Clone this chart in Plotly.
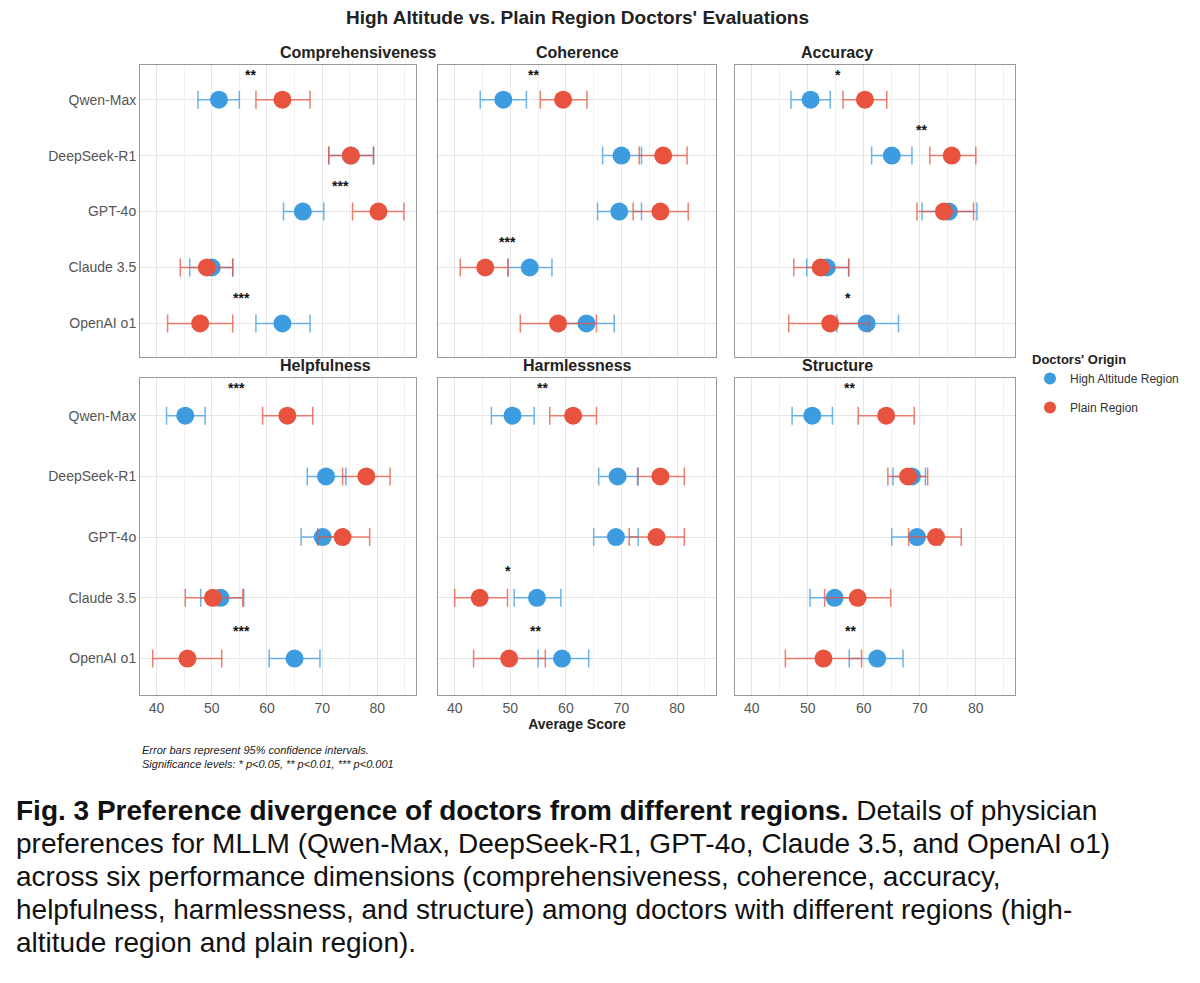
import plotly.graph_objects as go

models = ["Qwen-Max", "DeepSeek-R1", "GPT-4o", "Claude 3.5", "OpenAI o1"]
dims = ["Comprehensiveness", "Coherence", "Accuracy", "Helpfulness", "Harmlessness", "Structure"]

high_mean = {
    "Comprehensiveness": [51.3, 75.2, 66.5, 50.0, 62.8],
    "Coherence": [48.75, 70.0, 69.6, 53.5, 63.7],
    "Accuracy": [50.5, 65.0, 75.2, 53.4, 60.5],
    "Helpfulness": [45.2, 70.7, 70.1, 51.6, 65.0],
    "Harmlessness": [50.4, 69.3, 69.0, 54.8, 59.3],
    "Structure": [50.8, 68.6, 69.5, 54.8, 62.4],
}
high_lo = {
    "Comprehensiveness": [47.5, 71.2, 63.0, 46.0, 58.0],
    "Coherence": [44.6, 66.6, 65.7, 49.6, 58.7],
    "Accuracy": [47.0, 61.4, 70.4, 49.8, 55.2],
    "Helpfulness": [41.8, 67.3, 66.2, 48.0, 60.4],
    "Harmlessness": [46.6, 65.9, 65.0, 50.7, 55.0],
    "Structure": [47.2, 65.2, 65.0, 50.4, 57.4],
}
high_hi = {
    "Comprehensiveness": [55.0, 79.3, 70.3, 53.8, 67.8],
    "Coherence": [52.9, 73.6, 73.6, 57.5, 68.7],
    "Accuracy": [54.0, 68.6, 80.2, 57.3, 66.2],
    "Helpfulness": [48.8, 74.3, 74.0, 55.8, 69.6],
    "Harmlessness": [54.3, 73.0, 73.0, 59.1, 64.1],
    "Structure": [54.4, 71.0, 73.7, 59.2, 67.0],
}
plain_mean = {
    "Comprehensiveness": [62.8, 75.2, 80.2, 49.1, 47.9],
    "Coherence": [59.5, 77.5, 77.0, 45.5, 58.6],
    "Accuracy": [60.2, 75.7, 74.3, 52.3, 54.0],
    "Helpfulness": [63.7, 78.0, 73.7, 50.2, 45.6],
    "Harmlessness": [61.3, 77.0, 76.3, 44.5, 49.8],
    "Structure": [64.0, 67.9, 72.9, 58.9, 52.8],
}
plain_lo = {
    "Comprehensiveness": [58.0, 71.2, 75.5, 44.3, 42.0],
    "Coherence": [55.4, 73.2, 72.1, 41.0, 51.8],
    "Accuracy": [56.3, 71.8, 69.5, 47.5, 46.6],
    "Helpfulness": [59.2, 73.7, 69.2, 45.2, 39.3],
    "Harmlessness": [57.1, 72.9, 71.4, 40.0, 43.4],
    "Structure": [59.0, 64.3, 68.0, 53.0, 46.0],
}
plain_hi = {
    "Comprehensiveness": [67.8, 79.3, 84.8, 53.8, 53.8],
    "Coherence": [63.8, 81.8, 82.0, 49.6, 65.5],
    "Accuracy": [64.1, 80.0, 79.6, 57.3, 61.0],
    "Helpfulness": [68.3, 82.3, 78.6, 55.6, 51.8],
    "Harmlessness": [65.5, 81.3, 81.3, 49.5, 56.3],
    "Structure": [69.0, 71.4, 77.4, 64.8, 59.6],
}
signif = {
    "Comprehensiveness": ["**", "", "***", "", "***"],
    "Coherence": ["**", "", "", "***", ""],
    "Accuracy": ["*", "**", "", "", "*"],
    "Helpfulness": ["***", "", "", "", "***"],
    "Harmlessness": ["**", "", "", "*", "**"],
    "Structure": ["**", "", "", "", "**"],
}

BLUE = "#3d9be0"
RED = "#e8533f"
BLUE_E = "rgba(61,155,224,0.75)"
RED_E = "rgba(232,83,63,0.75)"

W, H = 1200, 983
OFF = 8  # page offset
xdoms = [(140, 416), (438, 716), (735, 1015)]
ydoms = [(65, 357), (378, 695)]


def px(x):
    return (x - OFF) / W


def py(y):
    return 1 - (y - OFF) / H


fig = go.Figure()
ann = []
yidx = list(range(len(models)))

for i, d in enumerate(dims):
    r, c = divmod(i, 3)
    n = i + 1
    xa = "x" if n == 1 else f"x{n}"
    ya = "y" if n == 1 else f"y{n}"
    for name, mean, lo, hi, col, ecol in [
        ("High Altitude Region", high_mean[d], high_lo[d], high_hi[d], BLUE, BLUE_E),
        ("Plain Region", plain_mean[d], plain_lo[d], plain_hi[d], RED, RED_E),
    ]:
        fig.add_trace(go.Scatter(
            x=mean, y=yidx, mode="markers", name=name, legendgroup=name,
            showlegend=(i == 0), xaxis=xa, yaxis=ya,
            marker=dict(color=col, size=18),
            error_x=dict(type="data", symmetric=False,
                         array=[h - m for h, m in zip(hi, mean)],
                         arrayminus=[m - l for m, l in zip(mean, lo)],
                         color=ecol, thickness=1.5, width=9),
        ))
    x0, x1 = xdoms[c]
    y0, y1 = ydoms[r]
    fig.layout[("xaxis" if n == 1 else f"xaxis{n}")] = dict(
        domain=[px(x0), px(x1)], anchor=ya, range=[37, 87],
        tickvals=[40, 50, 60, 70, 80], showticklabels=(r == 1),
        tickfont=dict(size=14, color="#555"),
        showgrid=True, gridcolor="#e6e6e6", gridwidth=1,
        minor=dict(dtick=5, tick0=35, showgrid=True, gridcolor="#f1f1f1"),
        showline=True, linecolor="#999", linewidth=1, mirror=True, zeroline=False,
        ticks="", title=dict(text="<b>Average Score</b>" if (r == 1 and c == 1) else "",
                             font=dict(size=14, color="#222"), standoff=4),
    )
    fig.layout[("yaxis" if n == 1 else f"yaxis{n}")] = dict(
        domain=[py(y1), py(y0)], anchor=xa, range=[4.6, -0.62],
        tickvals=yidx, ticktext=models, showticklabels=(c == 0),
        tickfont=dict(size=14, color="#555"),
        showgrid=True, gridcolor="#e6e6e6",
        showline=True, linecolor="#999", linewidth=1, mirror=True, zeroline=False, ticks="",
    )
    ann.append(dict(text=f"<b>{d}</b>", x=px((x0 + x1) / 2), y=py(y0 - 12),
                    xref="paper", yref="paper", showarrow=False,
                    font=dict(size=16, color="#222"), yanchor="middle"))
    for k, s in enumerate(signif[d]):
        if s:
            ann.append(dict(text=f"<b>{s}</b>", x=(high_mean[d][k] + plain_mean[d][k]) / 2,
                            y=k - 0.45, xref=xa, yref=ya, showarrow=False,
                            font=dict(size=14, color="#111")))

ann.append(dict(text="<b>High Altitude vs. Plain Region Doctors' Evaluations</b>",
                x=px(577), y=py(18), xref="paper", yref="paper", showarrow=False,
                yanchor="middle", font=dict(size=19, color="#222")))
ann.append(dict(text="<i>Error bars represent 95% confidence intervals.<br>Significance levels: * p<0.05, ** p<0.01, *** p<0.001</i>",
                x=px(140), y=py(742), xref="paper", yref="paper", showarrow=False,
                xanchor="left", yanchor="top", align="left", font=dict(size=11, color="#222")))
caption_lines = [
    "<b>Fig. 3 Preference divergence of doctors from different regions.</b> Details of physician",
    "preferences for MLLM (Qwen-Max, DeepSeek-R1, GPT-4o, Claude 3.5, and OpenAI o1)",
    "across six performance dimensions (comprehensiveness, coherence, accuracy,",
    "helpfulness, harmlessness, and structure) among doctors with different regions (high-",
    "altitude region and plain region).",
]
for j, line in enumerate(caption_lines):
    ann.append(dict(text=line, x=px(14), y=py(810 + 33 * j), xref="paper", yref="paper",
                    showarrow=False, xanchor="left", yanchor="middle", align="left",
                    font=dict(size=28, color="#111")))

fig.update_layout(
    width=W, height=H, margin=dict(l=0, r=0, t=0, b=0),
    paper_bgcolor="white", plot_bgcolor="white",
    font=dict(family="Liberation Sans, Arial, sans-serif"),
    annotations=ann,
    legend=dict(x=px(1030), y=py(347), xanchor="left", yanchor="top",
                title=dict(text="<b>Doctors' Origin</b>", font=dict(size=13, color="#222")),
                font=dict(size=12, color="#333"), itemsizing="constant"),
)
fig.write_html("out.html")
